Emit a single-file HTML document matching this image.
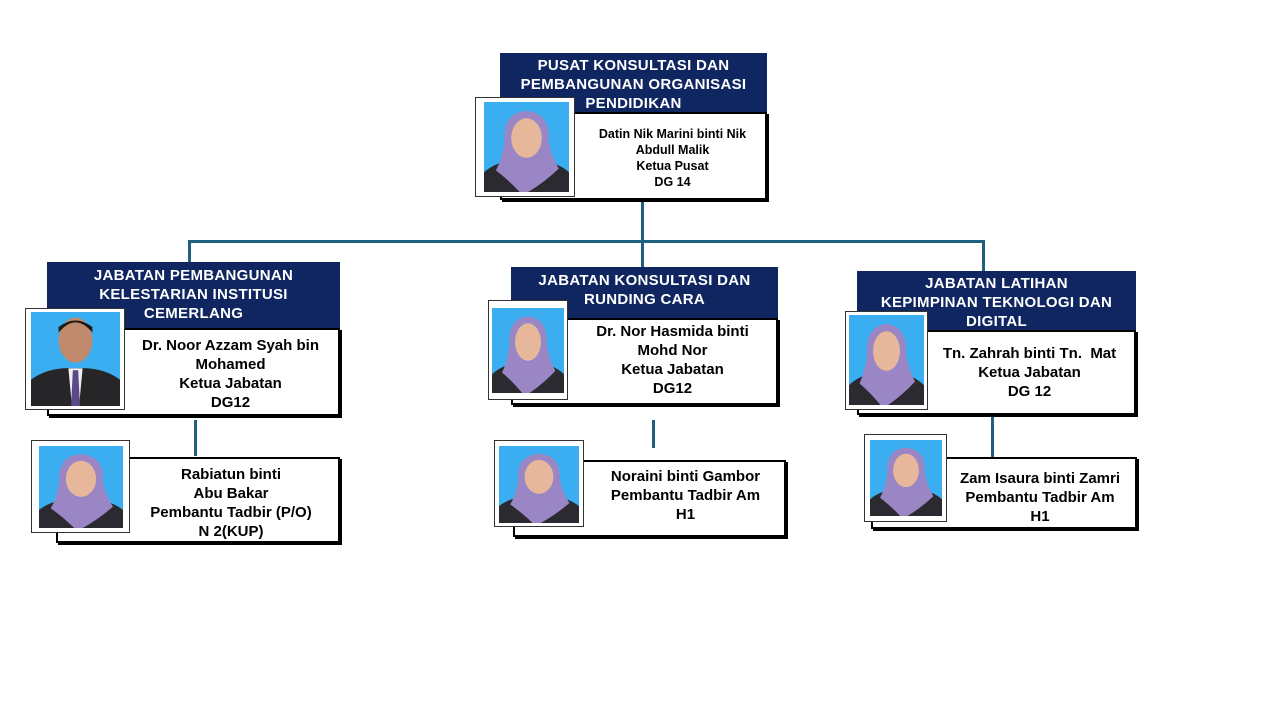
<!DOCTYPE html>
<html><head><meta charset="utf-8"><style>
body{margin:0;background:#fff;}
#c{position:relative;width:1280px;height:720px;overflow:hidden;font-family:"Liberation Sans",Arial,sans-serif;font-weight:bold;}
.a{position:absolute;box-sizing:border-box;}
.hd{background:#0f2660;color:#fff;text-align:center;font-size:15px;line-height:19px;padding-top:3px;letter-spacing:0.3px;}
.bx{background:#fff;border:2px solid #000;box-shadow:2px 2px 0 #000;color:#000;text-align:center;font-size:15px;line-height:19px;}
.ph{background:#fff;border:1px solid #333;}
.ph svg{position:absolute;display:block;}
.ln{position:absolute;background:#1f5f80;}
</style></head><body><div id="c">
<svg width="0" height="0" style="position:absolute"><defs>
<symbol id="f" viewBox="0 0 100 100" preserveAspectRatio="none">
<rect width="100" height="100" fill="#3aaef0"/>
<path d="M0 78 Q20 62 50 66 Q80 62 100 78 L100 100 L0 100Z" fill="#2a2a30"/>
<path d="M24 44 Q22 12 50 10 Q78 12 76 44 Q80 62 88 74 Q70 90 52 100 L42 100 Q28 86 14 76 Q22 62 24 44Z" fill="#9a86c4"/>
<ellipse cx="50" cy="40" rx="18" ry="22" fill="#e6b79a"/>
</symbol>
<symbol id="m" viewBox="0 0 100 100" preserveAspectRatio="none">
<rect width="100" height="100" fill="#3aaef0"/>
<path d="M0 72 Q20 58 50 60 Q80 58 100 72 L100 100 L0 100Z" fill="#262628"/>
<path d="M42 60 L58 60 L54 100 L46 100Z" fill="#eee"/>
<path d="M47 62 L53 62 L55 100 L45 100Z" fill="#5a4a8a"/>
<ellipse cx="50" cy="30" rx="19" ry="24" fill="#c08a6c"/>
<path d="M31 22 Q50 0 69 22 L69 16 Q50 2 31 16Z" fill="#1a1a1a"/>
</symbol>
</defs></svg>

<div class="ln" style="left:641px;top:200px;width:3px;height:68px"></div>
<div class="ln" style="left:188px;top:240px;width:797px;height:3px"></div>
<div class="ln" style="left:188px;top:240px;width:3px;height:23px"></div>
<div class="ln" style="left:982px;top:240px;width:3px;height:32px"></div>
<div class="ln" style="left:194px;top:420px;width:3px;height:36px"></div>
<div class="ln" style="left:652px;top:420px;width:3px;height:28px"></div>
<div class="ln" style="left:991px;top:417px;width:3px;height:40px"></div>

<div class="a hd" style="left:500px;top:53px;width:267px;height:60px;">PUSAT KONSULTASI DAN<br>PEMBANGUNAN ORGANISASI<br>PENDIDIKAN</div>
<div class="a bx" style="left:500px;top:112px;width:267px;height:88px;font-size:12.5px;line-height:16px;padding:12px 0 0 78px;">Datin Nik Marini binti Nik<br>Abdull Malik<br>Ketua Pusat<br>DG 14</div>
<div class="a ph" style="left:475px;top:97px;width:100px;height:100px;"><svg style="left:8px;top:4px" width="85" height="90"><use href="#f"/></svg></div>

<div class="a hd" style="left:47px;top:262px;width:293px;height:67px;padding-top:4px;">JABATAN PEMBANGUNAN<br>KELESTARIAN INSTITUSI<br>CEMERLANG</div>
<div class="a bx" style="left:47px;top:328px;width:293px;height:88px;padding:6px 0 0 74px;">Dr. Noor Azzam Syah bin<br>Mohamed<br>Ketua Jabatan<br>DG12</div>
<div class="a ph" style="left:25px;top:308px;width:100px;height:102px;"><svg style="left:5px;top:3px" width="89" height="94"><use href="#m"/></svg></div>
<div class="a bx" style="left:56px;top:457px;width:284px;height:86px;padding:6px 0 0 66px;">Rabiatun binti<br>Abu Bakar<br>Pembantu Tadbir (P/O)<br>N 2(KUP)</div>
<div class="a ph" style="left:31px;top:440px;width:99px;height:93px;"><svg style="left:7px;top:5px" width="84" height="82"><use href="#f"/></svg></div>

<div class="a hd" style="left:511px;top:267px;width:267px;height:52px;padding-top:4px;">JABATAN KONSULTASI DAN<br>RUNDING CARA</div>
<div class="a bx" style="left:511px;top:318px;width:267px;height:87px;padding:2px 0 0 56px;">Dr. Nor Hasmida binti<br>Mohd Nor<br>Ketua Jabatan<br>DG12</div>
<div class="a ph" style="left:488px;top:300px;width:80px;height:100px;"><svg style="left:3px;top:7px" width="72" height="85"><use href="#f"/></svg></div>
<div class="a bx" style="left:513px;top:460px;width:273px;height:77px;padding:5px 0 0 72px;">Noraini binti Gambor<br>Pembantu Tadbir Am<br>H1</div>
<div class="a ph" style="left:494px;top:440px;width:90px;height:87px;"><svg style="left:4px;top:5px" width="80" height="77"><use href="#f"/></svg></div>

<div class="a hd" style="left:857px;top:271px;width:279px;height:60px;">JABATAN LATIHAN<br>KEPIMPINAN TEKNOLOGI DAN<br>DIGITAL</div>
<div class="a bx" style="left:857px;top:330px;width:279px;height:85px;padding:12px 0 0 66px;">Tn. Zahrah binti Tn.&nbsp; Mat<br>Ketua Jabatan<br>DG 12</div>
<div class="a ph" style="left:845px;top:311px;width:83px;height:99px;"><svg style="left:3px;top:3px" width="75" height="90"><use href="#f"/></svg></div>
<div class="a bx" style="left:871px;top:457px;width:266px;height:72px;padding:10px 0 0 72px;">Zam Isaura binti Zamri<br>Pembantu Tadbir Am<br>H1</div>
<div class="a ph" style="left:864px;top:434px;width:83px;height:88px;"><svg style="left:5px;top:5px" width="72" height="76"><use href="#f"/></svg></div>
</div></body></html>
